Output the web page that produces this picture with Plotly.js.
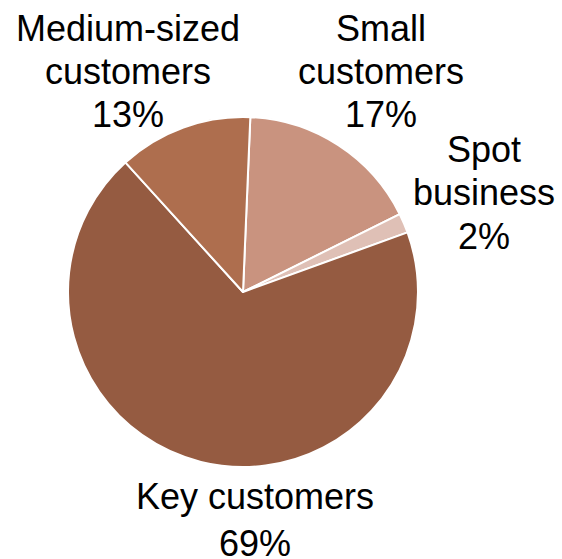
<!DOCTYPE html>
<html>
<head>
<meta charset="utf-8">
<script src="https://cdn.plot.ly/plotly-3.0.1.min.js"></script>
<style>html,body{margin:0;padding:0;background:#fff;}#chart{width:562px;height:559px;}</style>
</head>
<body>
<div id="chart"></div>
<script>
var categories = ["Small<br>customers", "Spot<br>business", "Key customers", "Medium-sized<br>customers"];
var shares = [17.0, 1.8, 68.8, 12.4];
var shareLabels = ["17%", "2%", "69%", "13%"];
var colors = ["#C9937F", "#DFC0B6", "#955B41", "#AE6E4E"];

// layout: label placement in pixels (x center, first baseline, line spacing)
var W = 562, H = 559, M = {l: 68, r: 144, t: 117, b: 92};
var FS = 36;
var labelPos = [
  {x: 381, base: 41, gap: 43},
  {x: 484, base: 162, gap: 43.5},
  {x: 255, base: 509, gap: 47},
  {x: 128, base: 41, gap: 43}
];
function px2paper(px, py) {
  var pw = W - M.l - M.r, ph = H - M.t - M.b;
  return {x: (px - M.l) / pw, y: (H - M.b - py) / ph};
}
var annotations = [];
categories.forEach(function (c, i) {
  var lines = c.split("<br>").concat([shareLabels[i]]);
  var p = labelPos[i];
  lines.forEach(function (ln, j) {
    var cy = p.base + j * p.gap - 0.35 * FS;
    var pp = px2paper(p.x, cy);
    annotations.push({
      xref: "paper", yref: "paper", x: pp.x, y: pp.y,
      xanchor: "center", yanchor: "middle", align: "center",
      text: ln, showarrow: false,
      font: {family: "Liberation Sans, Arial, sans-serif", size: FS, color: "#000000"}
    });
  });
});

Plotly.newPlot("chart", [{
  type: "pie",
  labels: categories,
  values: shares,
  textinfo: "none",
  sort: false,
  direction: "clockwise",
  rotation: 2.4,
  marker: {colors: colors, line: {color: "#ffffff", width: 2}},
  hoverinfo: "none",
  showlegend: false
}], {
  width: W, height: H,
  margin: {l: M.l, r: M.r, t: M.t, b: M.b, pad: 0},
  paper_bgcolor: "#ffffff",
  showlegend: false,
  annotations: annotations
}, {displayModeBar: false, staticPlot: true});
</script>
</body>
</html>
